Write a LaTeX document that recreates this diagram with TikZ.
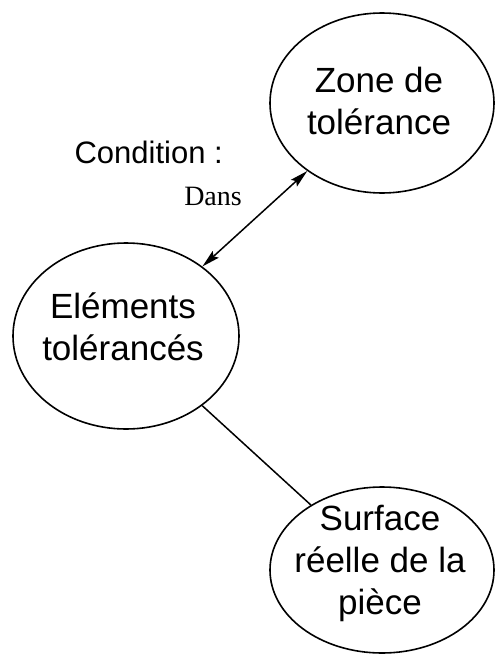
\documentclass[tikz,border=0pt]{standalone}
\usepackage{fontspec}
\setmainfont{Liberation Sans}
\newfontfamily\serifdans{Liberation Serif}
\usetikzlibrary{shapes.geometric,arrows.meta}
\begin{document}
\begin{tikzpicture}[x=1pt,y=-1pt,
  bubble/.style={ellipse,draw,line width=1.6pt,inner sep=0pt},
  bubtext/.style={align=center,inner sep=0pt,font=\fontsize{35}{42}\selectfont},
  link/.style={line width=1.5pt}]
\useasboundingbox (0,0) rectangle (496,656);
\node[bubble,minimum width=224pt,minimum height=180pt] (zone) at (382,103) {};
\node[bubble,minimum width=226pt,minimum height=186pt] (elem) at (126,336) {};
\node[bubble,minimum width=224pt,minimum height=166pt] (surf) at (382,570) {};
\node[bubtext] (zonetxt) at (379,101) {Zone de\\tolérance};
\node[bubtext] (elemtxt) at (123,327) {Eléments\\tolérancés};
\node[bubtext] (surftxt) at (380,563) {Surface\\réelle de la\\pièce};
\draw[link,{Stealth[length=18pt,width=9pt,inset=3pt]}-{Stealth[length=18pt,width=9pt,inset=3pt]}] (elem) -- (zone);
\draw[link] (elem) -- (surf);
\node[anchor=base east,inner sep=0pt,font=\fontsize{31}{36}\selectfont] (cond) at (223,163) {Condition :};
\node[anchor=base east,inner sep=0pt,font=\serifdans\fontsize{28}{32}\selectfont] (dans) at (242,205) {Dans};
\end{tikzpicture}
\end{document}
